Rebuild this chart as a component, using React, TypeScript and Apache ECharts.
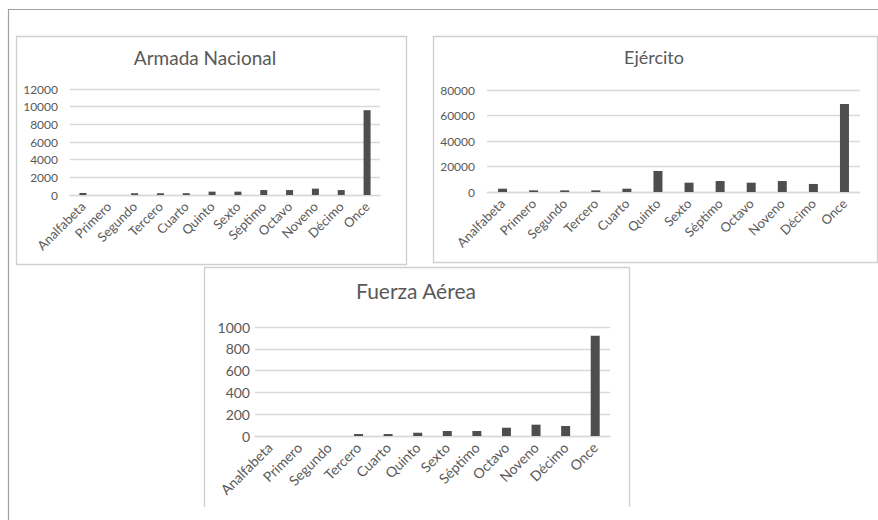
import React, { useEffect, useRef } from "react";
import * as echarts from "echarts";

const categories = ["Analfabeta", "Primero", "Segundo", "Tercero", "Cuarto", "Quinto", "Sexto", "Séptimo", "Octavo", "Noveno", "Décimo", "Once"];
const titles = ["Armada Nacional", "Ejército", "Fuerza Aérea"];
const armada = [230, 0, 200, 200, 200, 380, 380, 560, 560, 720, 560, 9600];
const ejercito = [2600, 1300, 1300, 1300, 2600, 16500, 7300, 8600, 7300, 8600, 6300, 69000];
const fuerza = [0, 0, 0, 18, 18, 30, 46, 46, 76, 104, 92, 920];
const yMax = [12000, 80000, 1000];
const yStep = [2000, 20000, 200];

const FONT = "Lato";
const TXT = "#595959";
const GRIDC = "#d9d9d9";
const BAR = "#4e4e4e";

export default function App() {
  const ref = useRef<HTMLDivElement>(null);
  useEffect(() => {
    if (!ref.current) return;
    const chart = echarts.init(ref.current, undefined, { renderer: "svg" });
    const grids = [
      { left: 70, right: 498, top: 89, bottom: 325 },
      { left: 487, right: 18, top: 90, bottom: 328 },
      { left: 255, right: 268, top: 327, bottom: 84 },
    ];
    const fontSizes = [12, 12, 14];
    const xFontSizes = [13, 13, 14];
    const titleSizes = [19, 18, 21];
    const titlePos = [
      { left: 205, top: 48 },
      { left: 654, top: 48 },
      { left: 416, top: 280 },
    ];
    const seriesData = [armada, ejercito, fuerza];
    const barW = [7, 9, 9];
    const boxStroke = { stroke: "#cfcfcf", lineWidth: 1.3, fill: "none" };
    chart.setOption({
      animation: false,
      backgroundColor: "#ffffff",
      title: titles.map((t, i) => ({
        text: t,
        left: titlePos[i].left,
        top: titlePos[i].top,
        textAlign: "center",
        padding: 0,
        textStyle: { fontFamily: FONT, fontSize: titleSizes[i], fontWeight: "normal", color: TXT },
      })),
      grid: grids.map((g) => ({ ...g, containLabel: false })),
      xAxis: grids.map((_, i) => ({
        type: "category",
        gridIndex: i,
        data: categories,
        axisLine: { lineStyle: { color: GRIDC, width: 1.3 } },
        axisTick: { show: false },
        axisLabel: { rotate: 45, interval: 0, margin: 9, color: TXT, fontFamily: FONT, fontSize: xFontSizes[i] },
      })),
      yAxis: grids.map((_, i) => ({
        type: "value",
        gridIndex: i,
        min: 0,
        max: yMax[i],
        interval: yStep[i],
        axisLine: { show: false },
        axisTick: { show: false },
        splitLine: { lineStyle: { color: GRIDC, width: 1.3 } },
        axisLabel: {
          margin: i === 2 ? 5 : 12,
          color: TXT,
          fontFamily: FONT,
          fontSize: fontSizes[i],
          formatter: (v: number) => String(v),
        },
      })),
      series: seriesData.map((d, i) => ({
        type: "bar",
        xAxisIndex: i,
        yAxisIndex: i,
        data: d,
        barWidth: barW[i],
        itemStyle: { color: BAR },
      })),
      graphic: [
        { type: "rect", shape: { x: 8.5, y: 9.5, width: 900, height: 600 }, style: { stroke: "#a0a0a0", lineWidth: 1.2, fill: "none" }, silent: true },
        { type: "rect", shape: { x: 16.5, y: 36.5, width: 390, height: 228 }, style: boxStroke, silent: true },
        { type: "rect", shape: { x: 433.5, y: 36.5, width: 444, height: 226 }, style: boxStroke, silent: true },
        { type: "polyline", shape: { points: [[204.5, 507], [204.5, 267.5], [629.5, 267.5], [629.5, 507]] }, style: { stroke: "#cfcfcf", lineWidth: 1.3, fill: "none" }, silent: true },
      ],
    });
    return () => chart.dispose();
  }, []);
  return <div ref={ref} style={{ position: "fixed", left: 0, top: 0, width: 878, height: 520 }} />;
}
